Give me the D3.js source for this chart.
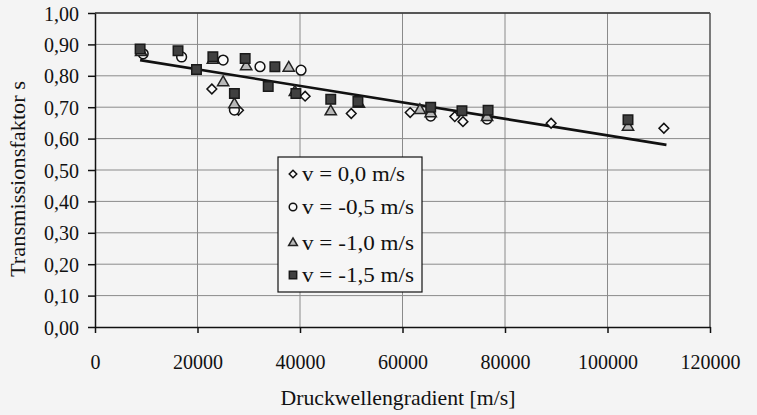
<!DOCTYPE html>
<html>
<head>
<meta charset="utf-8">
<script src="https://cdnjs.cloudflare.com/ajax/libs/d3/7.8.5/d3.min.js"></script>
<style>
  body { margin: 0; background: #f4f4f4; }
  svg text { font-family: "Liberation Serif", "DejaVu Serif", serif; }
  .grid line { stroke: #8a8a8a; stroke-width: 1; }
  .axis path, .axis line { stroke: #111; stroke-width: 1.5; }
  .axis text { fill: #111; font-size: 20px; font-family: "Liberation Serif", "DejaVu Serif", serif; }
</style>
</head>
<body>
<div id="chart"></div>
<script>
var width = 757, height = 415;
var margin = {left: 95, top: 13, right: 47, bottom: 88};
var w = width - margin.left - margin.right;
var h = height - margin.top - margin.bottom;
var serif = '"Liberation Serif", "DejaVu Serif", serif';

// tick values
var xTicks = [0, 20000, 40000, 60000, 80000, 100000, 120000];
var yTicks = [0, 0.1, 0.2, 0.3, 0.4, 0.5, 0.6, 0.7, 0.8, 0.9, 1.0];

// series (x = Druckwellengradient, y = Transmissionsfaktor)
var labels = ['v = 0,0 m/s', 'v = -0,5 m/s', 'v = -1,0 m/s', 'v = -1,5 m/s'];
var v00 = [[22800, 0.758], [28000, 0.69], [41000, 0.735], [50000, 0.68], [61500, 0.683],
           [70200, 0.67], [71800, 0.654], [89000, 0.649], [111000, 0.633]];
var v05 = [[9400, 0.87], [16900, 0.86], [25000, 0.85], [27200, 0.691], [32200, 0.829],
           [40200, 0.818], [65500, 0.672], [76500, 0.662]];
var v10 = [[9000, 0.875], [23000, 0.85], [25000, 0.779], [27200, 0.709], [29500, 0.83],
           [37800, 0.825], [39000, 0.748], [46000, 0.686], [51500, 0.71], [63400, 0.69],
           [65500, 0.68], [76500, 0.668], [104000, 0.637]];
var v15 = [[8800, 0.885], [16200, 0.88], [19800, 0.82], [23000, 0.861], [27200, 0.744],
           [29300, 0.855], [33800, 0.766], [35100, 0.829], [39200, 0.744], [46000, 0.725],
           [51300, 0.718], [65500, 0.70], [71600, 0.689], [76700, 0.69], [104000, 0.66]];
// linear trend line end points
var trend = [[8800, 0.85], [111500, 0.58]];

var svg = d3.select('#chart').append('svg')
    .attr('width', width)
    .attr('height', height)
    .attr('font-family', serif);
var chart = svg.append('g')
    .attr('transform', 'translate(' + margin.left + ',' + margin.top + ')');

var x = d3.scaleLinear().domain([0, 120000]).range([0, w]);
var y = d3.scaleLinear().domain([0, 1]).range([h, 0]);

// gridlines
chart.append('g').attr('class', 'grid')
    .selectAll('line.h').data(yTicks.slice(1)).enter().append('line')
    .attr('x1', 0).attr('x2', w)
    .attr('y1', function(d) { return y(d); }).attr('y2', function(d) { return y(d); });
chart.append('g').attr('class', 'grid')
    .selectAll('line.v').data(xTicks.slice(1)).enter().append('line')
    .attr('y1', 0).attr('y2', h)
    .attr('x1', function(d) { return x(d); }).attr('x2', function(d) { return x(d); });
// frame top / right a bit darker
chart.append('line').attr('x1', 0).attr('x2', w).attr('y1', 0).attr('y2', 0)
    .attr('stroke', '#333').attr('stroke-width', 1.3);
chart.append('line').attr('x1', w).attr('x2', w).attr('y1', 0).attr('y2', h)
    .attr('stroke', '#555').attr('stroke-width', 1.3);

var fmt = function(d) { return d3.format('.2f')(d).replace('.', ','); };

chart.append('g').attr('class', 'y axis')
    .call(d3.axisLeft(y).tickValues(yTicks).tickFormat(fmt).tickSize(7).tickSizeOuter(0).tickPadding(9))
    .selectAll('text').attr('dy', '0.35em');
chart.append('g').attr('class', 'x axis')
    .attr('transform', 'translate(0,' + h + ')')
    .call(d3.axisBottom(x).tickValues(xTicks).tickFormat(d3.format('d')).tickSize(6).tickSizeOuter(0).tickPadding(22));
chart.selectAll('.axis .domain').attr('stroke-width', 2);
chart.selectAll('.axis text').attr('font-family', serif);

// trend line
var line = d3.line()
    .x(function(d) { return x(d[0]); })
    .y(function(d) { return y(d[1]); });
chart.append('path').datum(trend)
    .attr('d', line)
    .attr('fill', 'none')
    .attr('stroke', '#111')
    .attr('stroke-width', 2.6);

// marker styles
var markers = [
  {type: d3.symbolDiamond2, size: 60, fill: '#fafafa', stroke: '#111'},
  {type: d3.symbolCircle, size: 75, fill: '#fafafa', stroke: '#111'},
  {type: d3.symbolTriangle, size: 55, fill: '#b8b8b8', stroke: '#222'},
  {type: d3.symbolSquare, size: 90, fill: '#404040', stroke: '#1a1a1a'}
];
var seriesData = [v00, v05, v10, v15];

seriesData.forEach(function(s, i) {
  var m = markers[i];
  chart.append('g').selectAll('path').data(s).enter().append('path')
      .attr('d', d3.symbol().type(m.type).size(m.size))
      .attr('transform', function(d) { return 'translate(' + x(d[0]) + ',' + y(d[1]) + ')'; })
      .attr('fill', m.fill)
      .attr('stroke', m.stroke)
      .attr('stroke-width', 1.5);
});

// legend
var lg = svg.append('g').attr('transform', 'translate(278,157)');
lg.append('rect').attr('width', 144).attr('height', 135)
    .attr('fill', '#f6f6f6').attr('stroke', '#111').attr('stroke-width', 1.2);
var rowY = [17, 50, 86, 118];
labels.forEach(function(l, i) {
  var m = markers[i];
  lg.append('path')
      .attr('d', d3.symbol().type(m.type).size(m.size * 0.6))
      .attr('transform', 'translate(15,' + rowY[i] + ')')
      .attr('fill', m.fill).attr('stroke', m.stroke).attr('stroke-width', 1.5);
  lg.append('text')
      .attr('x', 24).attr('y', rowY[i] + 7)
      .attr('font-size', 20)
      .attr('font-family', serif)
      .attr('textLength', i === 0 ? 103 : 112)
      .attr('lengthAdjust', 'spacingAndGlyphs')
      .attr('fill', '#111')
      .text(l);
});

// axis titles
svg.append('text')
    .attr('x', 398).attr('y', 405)
    .attr('text-anchor', 'middle')
    .attr('font-size', 21)
    .attr('font-family', serif)
    .attr('textLength', 235)
    .attr('lengthAdjust', 'spacingAndGlyphs')
    .attr('fill', '#111')
    .text('Druckwellengradient [m/s]');
svg.append('text')
    .attr('transform', 'translate(25,179) rotate(-90)')
    .attr('text-anchor', 'middle')
    .attr('font-size', 21)
    .attr('font-family', serif)
    .attr('textLength', 196)
    .attr('lengthAdjust', 'spacingAndGlyphs')
    .attr('fill', '#111')
    .text('Transmissionsfaktor s');
</script>
</body>
</html>
